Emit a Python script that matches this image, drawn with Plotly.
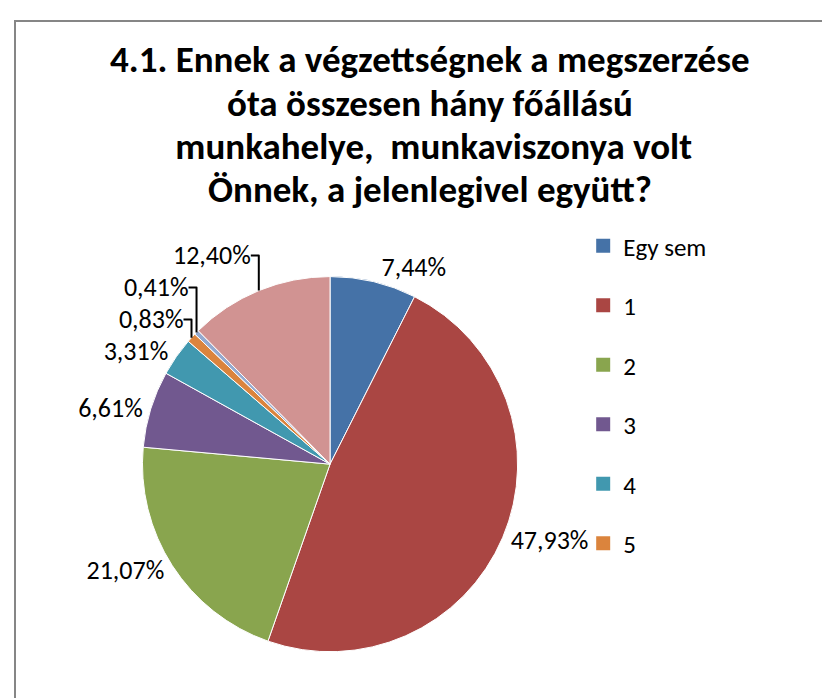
import plotly.graph_objects as go

labels = ["Egy sem", "1", "2", "3", "4", "5", "6", "7"]
values = [7.44, 47.93, 21.07, 6.61, 3.31, 0.83, 0.41, 12.40]
colors = ["#4572A7", "#AA4643", "#89A54E", "#71588F", "#4198AF", "#DB843D", "#93A9CF", "#D19392"]
legend_items = labels[:6]  # the legend in the original shows only the first six

title_lines = [
    "4.1. Ennek a végzettségnek a megszerzése",
    "óta összesen hány főállású",
    " munkahelye,  munkaviszonya volt",
    "Önnek, a jelenlegivel együtt?",
]

pct_text = [f"{v:.2f}%".replace(".", ",") for v in values]

fig = go.Figure()

fig.add_trace(go.Pie(
    labels=labels, values=values,
    text=pct_text, texttemplate="%{text}",
    textposition="outside",
    sort=False, direction="clockwise", rotation=0,
    marker=dict(colors=colors, line=dict(color="white", width=1)),
    outsidetextfont=dict(size=26, color="#000000"),
    showlegend=False,
    domain=dict(x=[0.162, 0.614], y=[0.076, 0.617]),
))

# legend entries as empty square-marker traces
for i, name in enumerate(legend_items):
    fig.add_trace(go.Scatter(
        x=[None], y=[None], mode="markers", name=name,
        legendgroup=name,
        marker=dict(symbol="square", size=14, color=colors[i]),
    ))

annotations = []
for i, line in enumerate(title_lines):
    annotations.append(dict(
        text=f"<b>{line}</b>", xref="paper", yref="paper",
        x=0.508, y=1 - (52 + 43.3 * i) / 698, xanchor="center", yanchor="middle",
        showarrow=False, font=dict(size=37, color="#000000"),
    ))

fig.update_layout(
    width=830, height=698,
    margin=dict(l=0, r=0, t=0, b=0),
    paper_bgcolor="white", plot_bgcolor="white",
    font=dict(family="Carlito, Calibri, Lato, sans-serif", color="#000000"),
    annotations=annotations,
    xaxis=dict(visible=False), yaxis=dict(visible=False),
    legend=dict(x=0.693, y=1 - 215 / 698, xanchor="left", yanchor="top",
                font=dict(size=25), tracegroupgap=24, bgcolor="rgba(0,0,0,0)"),
    shapes=[dict(type="rect", xref="paper", yref="paper",
                 x0=7 / 830, x1=1.02, y0=-0.02, y1=1 - 13 / 698,
                 line=dict(color="#868686", width=2))],
)

fig.write_html("out.html")
